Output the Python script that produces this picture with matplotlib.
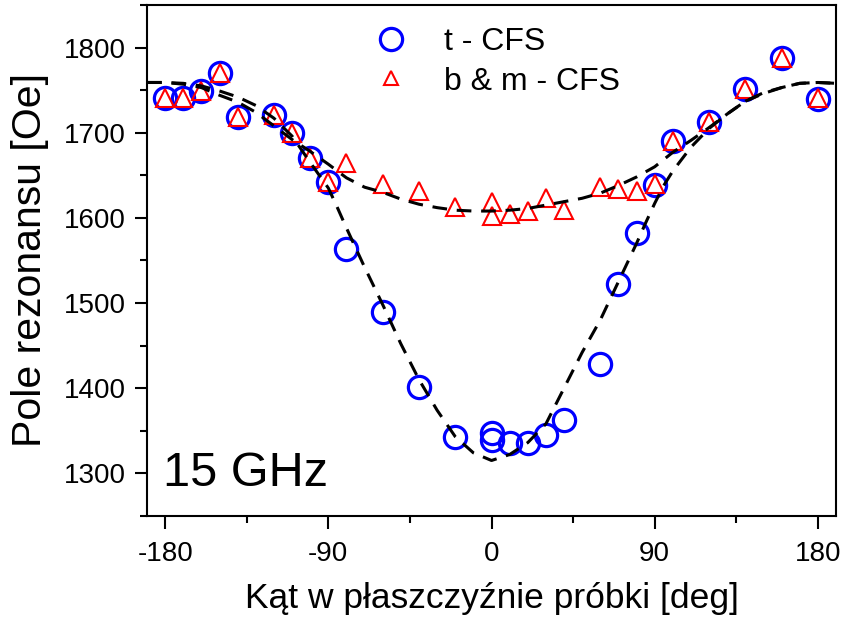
import matplotlib
matplotlib.use("Agg")
import matplotlib.pyplot as plt
from matplotlib.lines import Line2D
from matplotlib.ticker import MultipleLocator

plt.rcParams['font.family'] = ['Liberation Sans', 'DejaVu Sans']
plt.rcParams['axes.unicode_minus'] = False

# t - CFS (circles)
t_angle = [-180, -170, -160, -150, -140, -120, -110, -100, -90, -80, -60, -40, -20,
           0, 0, 10, 20, 30, 40, 60, 70, 80, 90, 100, 120, 140, 160, 180]
t_field = [1741, 1741, 1749, 1770, 1718, 1721, 1700, 1670, 1642, 1563, 1489, 1401, 1343,
           1347, 1339, 1336, 1336, 1345, 1363, 1428, 1522, 1582, 1638, 1690, 1712, 1751, 1788, 1740]

# b & m - CFS (triangles)
bm_angle = [-180, -170, -160, -150, -140, -120, -110, -100, -90, -80, -60, -40, -20,
            0, 0, 10, 20, 30, 40, 60, 70, 80, 90, 100, 120, 140, 160, 180]
bm_field = [1741, 1741, 1749, 1770, 1718, 1721, 1700, 1670, 1642, 1665, 1640, 1631, 1613,
            1619, 1602, 1604, 1608, 1623, 1609, 1636, 1634, 1632, 1640, 1690, 1712, 1751, 1788, 1741]

# fitted curves
fit_t_angle = [-190, -180, -170, -160, -150, -140, -130, -120, -110, -100, -95, -90, -85, -80,
               -70, -60, -50, -40, -30, -20, -10, 0, 10, 20, 30, 40, 50, 60, 70, 80, 85, 90,
               95, 100, 110, 120, 130, 140, 150, 160, 170, 180, 190]
fit_t_field = [1759, 1759, 1758, 1755, 1749, 1742, 1732, 1717, 1696, 1665, 1650, 1635, 1612, 1588,
               1542, 1498, 1452, 1410, 1374, 1343, 1324, 1315, 1322, 1336, 1358, 1400, 1442, 1480,
               1525, 1570, 1594, 1617, 1638, 1655, 1683, 1705, 1722, 1737, 1747, 1753, 1758, 1759, 1758]

fit_bm_angle = [-190, -180, -170, -160, -150, -140, -130, -120, -110, -100, -90, -80, -70, -60,
                -50, -40, -30, -20, -10, 0, 10, 20, 30, 40, 50, 60, 70, 80, 90, 100, 110, 120,
                130, 140, 150, 160, 170, 180, 190]
fit_bm_field = [1759, 1759, 1757, 1753, 1744, 1736, 1724, 1708, 1692, 1678, 1663, 1647, 1636, 1630,
                1622, 1616, 1612, 1609, 1608, 1608, 1609, 1611, 1615, 1619, 1623, 1629, 1638, 1648,
                1660, 1677, 1691, 1706, 1722, 1737, 1746, 1753, 1758, 1759, 1758]

fig = plt.figure(figsize=(8.47, 6.26), dpi=100)
ax = fig.add_axes([0.1736, 0.176, 0.8134, 0.816])

ax.plot(t_angle, t_field, 'o', ls='none', ms=16, mfc='none', mec='#0000ff', mew=2.3, zorder=2)
ax.plot(bm_angle, bm_field, '^', ls='none', ms=13.5, mfc='none', mec='#ff0000', mew=1.5, zorder=3)
ax.plot(fit_t_angle, fit_t_field, color='black', lw=2.2, dashes=(4.8, 3.2), zorder=4)
ax.plot(fit_bm_angle, fit_bm_field, color='black', lw=2.2, dashes=(4.8, 3.2), zorder=4)

ax.set_xlim(-190, 190)
ax.set_ylim(1250, 1850)
ax.set_xticks([-180, -90, 0, 90, 180])
ax.xaxis.set_minor_locator(MultipleLocator(45))
ax.yaxis.set_major_locator(MultipleLocator(100))
ax.yaxis.set_minor_locator(MultipleLocator(50))
ax.tick_params(which='major', direction='out', length=9, width=1.5)
ax.tick_params(which='minor', direction='out', length=5, width=1.5)
ax.tick_params(axis='y', labelsize=20, pad=6)
ax.tick_params(axis='x', labelsize=20, pad=9)
ax.tick_params(top=False, right=False, which='both')
for s in ax.spines.values():
    s.set_linewidth(1.5)

ax.set_xlabel('Kąt w płaszczyźnie próbki [deg]', fontsize=25.5, labelpad=11)
ax.set_ylabel('Pole rezonansu [Oe]', fontsize=29.5, labelpad=11)

ax.text(0.023, 0.059, '15 GHz', transform=ax.transAxes, fontsize=35, va='baseline', ha='left')

handles = [
    Line2D([], [], marker='o', ls='none', ms=16, mfc='none', mec='#0000ff', mew=2.3),
    Line2D([], [], marker='^', ls='none', ms=10, mfc='none', mec='#ff0000', mew=1.5),
]
ax.legend(handles, ['t - CFS', 'b & m - CFS'], loc='upper left', bbox_to_anchor=(0.336, 0.957),
          frameon=False, fontsize=23, handlelength=0.8, handletextpad=1.25,
          labelspacing=0.3, borderpad=0, borderaxespad=0)

plt.savefig('out.png', dpi=100)
